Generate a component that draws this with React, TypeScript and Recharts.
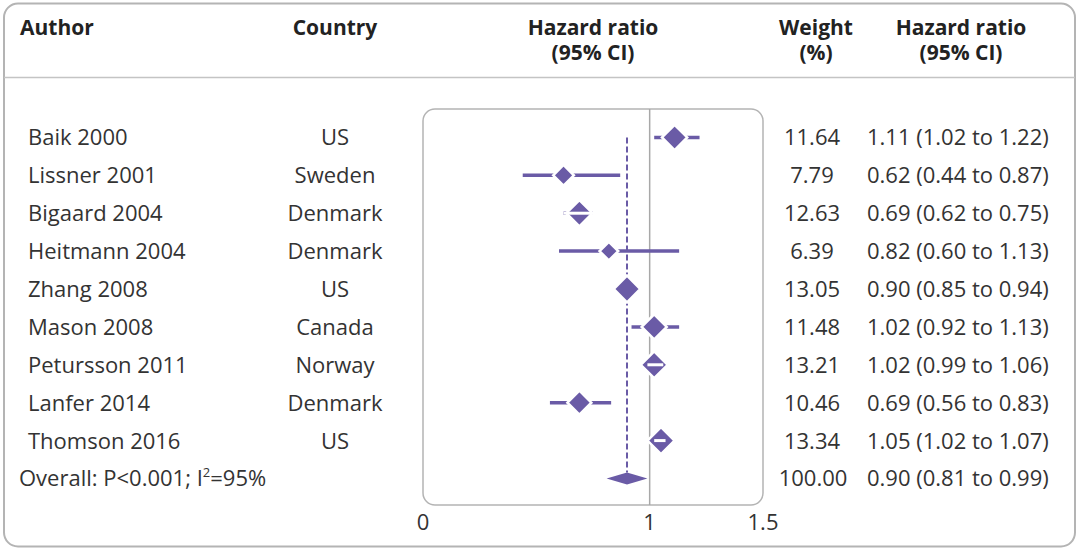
import {
  ErrorBar,
  ReferenceArea,
  ReferenceLine,
  Scatter,
  ScatterChart,
  XAxis,
  YAxis,
} from "recharts";

// study rows, top to bottom
const authors = [
  "Baik 2000",
  "Lissner 2001",
  "Bigaard 2004",
  "Heitmann 2004",
  "Zhang 2008",
  "Mason 2008",
  "Petursson 2011",
  "Lanfer 2014",
  "Thomson 2016",
];
const countries = ["US", "Sweden", "Denmark", "Denmark", "US", "Canada", "Norway", "Denmark", "US"];
const hazardRatios = [1.11, 0.62, 0.69, 0.82, 0.9, 1.02, 1.02, 0.69, 1.05];
const lowerCI = [1.02, 0.44, 0.62, 0.6, 0.85, 0.92, 0.99, 0.56, 1.02];
const upperCI = [1.22, 0.87, 0.75, 1.13, 0.94, 1.13, 1.06, 0.83, 1.07];
const weights = [11.64, 7.79, 12.63, 6.39, 13.05, 11.48, 13.21, 10.46, 13.34];
// rows whose CI sits inside the marker get a white whisker drawn over it
const whiteWhisker = ["Bigaard 2004", "Petursson 2011", "Thomson 2016"];

const overallLabel = "Overall";
const overallHR = 0.9;
const overallLower = 0.81;
const overallUpper = 0.99;
const overallWeight = 100.0;

const xTicks = [0, 1, 1.5];
const xDomain = [0, 1.5];
const yDomain = [-0.75, 9.7];

const PURPLE = "#6a5ba6";
const TEXT = "#333333";
const FONT = "'Open Sans', sans-serif";
const FS = 22;

const rows = authors.map((author, i) => ({
  row: i,
  author,
  country: countries[i],
  hr: hazardRatios[i],
  lo: lowerCI[i],
  hi: upperCI[i],
  weight: weights[i],
  err: [hazardRatios[i] - lowerCI[i], upperCI[i] - hazardRatios[i]],
}));
const overallRow = authors.length;
const whiteRows = rows.filter((r) => whiteWhisker.includes(r.author));

const fmt = (v: number) => v.toFixed(2);

const Diamond = (props: any) => {
  const { cx, cy, payload } = props;
  const s = 3.7 * Math.sqrt(payload.weight);
  return (
    <polygon
      points={`${cx - s},${cy} ${cx},${cy - s} ${cx + s},${cy} ${cx},${cy + s}`}
      fill={PURPLE}
      stroke="#ffffff"
      strokeWidth={2.5}
    />
  );
};

const Nothing = () => <g />;

const OverallDiamond = (props: any) => {
  const { x, y, width, height } = props;
  const mx = x + width * ((overallHR - overallLower) / (overallUpper - overallLower));
  return (
    <polygon
      points={`${x},${y + height / 2} ${mx},${y} ${x + width},${y + height / 2} ${mx},${y + height}`}
      fill={PURPLE}
    />
  );
};

const RowTick = (props: any) => {
  const { y, payload } = props;
  const i = payload.value;
  const by = y + 8;
  if (i === overallRow) {
    return (
      <g fontFamily={FONT} fontSize={FS} fill={TEXT}>
        <text x={19} y={by}>
          {overallLabel}: P&lt;0.001; I
          <tspan fontSize={13} dy={-9}>2</tspan>
          <tspan dy={9}>=95%</tspan>
        </text>
        <text x={813} y={by} textAnchor="middle">{fmt(overallWeight)}</text>
        <text x={867} y={by}>
          {`${fmt(overallHR)} (${fmt(overallLower)} to ${fmt(overallUpper)})`}
        </text>
      </g>
    );
  }
  const r = rows[i];
  return (
    <g fontFamily={FONT} fontSize={FS} fill={TEXT}>
      <text x={28} y={by}>{r.author}</text>
      <text x={335} y={by} textAnchor="middle">{r.country}</text>
      <text x={812} y={by} textAnchor="middle">{fmt(r.weight)}</text>
      <text x={867} y={by}>{`${fmt(r.hr)} (${fmt(r.lo)} to ${fmt(r.hi)})`}</text>
    </g>
  );
};

const XTick = (props: any) => {
  const { x, payload } = props;
  return (
    <text x={x} y={530} textAnchor="middle" fontFamily={FONT} fontSize={FS} fill={TEXT}>
      {payload.value}
    </text>
  );
};

const headStyle = { fontFamily: FONT, fontSize: 21, fontWeight: 700, fill: "#222" };

export default function App() {
  return (
    <div style={{ position: "absolute", left: 0, top: 0, width: 1080, height: 554, background: "#fff" }}>
      <svg width={1080} height={554} style={{ position: "absolute", left: 0, top: 0 }}>
        <rect x={4} y={3.5} width={1071} height={543} rx={14} fill="#fff" stroke="#b4b4b4" strokeWidth={2} />
        <line x1={4} x2={1075} y1={77.5} y2={77.5} stroke="#c4c4c4" strokeWidth={1.5} />
        <text x={20} y={35} {...headStyle}>Author</text>
        <text x={335} y={35} textAnchor="middle" {...headStyle}>Country</text>
        <text x={593} y={35} textAnchor="middle" {...headStyle}>Hazard ratio</text>
        <text x={593} y={60} textAnchor="middle" {...headStyle}>(95% CI)</text>
        <text x={816} y={35} textAnchor="middle" {...headStyle}>Weight</text>
        <text x={816} y={60} textAnchor="middle" {...headStyle}>(%)</text>
        <text x={961} y={35} textAnchor="middle" {...headStyle}>Hazard ratio</text>
        <text x={961} y={60} textAnchor="middle" {...headStyle}>(95% CI)</text>
      </svg>
      <div style={{ position: "absolute", left: 0, top: 0 }}>
        <ScatterChart width={1080} height={554} margin={{ top: 109, right: 317, bottom: 0, left: 0 }}>
          <XAxis
            type="number"
            dataKey="hr"
            domain={xDomain}
            ticks={xTicks}
            allowDataOverflow
            axisLine={false}
            tickLine={false}
            height={49}
            tick={<XTick />}
          />
          <YAxis
            type="number"
            dataKey="row"
            domain={yDomain}
            reversed
            allowDataOverflow
            ticks={[...rows.map((r) => r.row), overallRow]}
            interval={0}
            width={423}
            axisLine={false}
            tickLine={false}
            tick={<RowTick />}
          />
          <ReferenceArea
            x1={0}
            x2={1.5}
            y1={-0.75}
            y2={9.7}
            fill="none"
            fillOpacity={0}
            stroke="#b4b4b4"
            strokeWidth={1.5}
            radius={12}
          />
          <ReferenceLine x={1} stroke="#a8a8a8" strokeWidth={1.5} />
          <ReferenceLine
            segment={[
              { x: overallHR, y: 0 },
              { x: overallHR, y: overallRow - 0.16 },
            ]}
            stroke={PURPLE}
            strokeWidth={2}
            strokeDasharray="6 3"
          />
          <Scatter data={rows} shape={<Diamond />} isAnimationActive={false}>
            <ErrorBar
              dataKey="err"
              direction="x"
              width={0}
              stroke={PURPLE}
              strokeWidth={3.5}
              isAnimationActive={false}
            />
          </Scatter>
          <ReferenceArea
            x1={overallLower}
            x2={overallUpper}
            y1={overallRow - 0.16}
            y2={overallRow + 0.16}
            shape={<OverallDiamond />}
          />
        </ScatterChart>
      </div>
      {/* same axes laid over the top, only for the white whiskers inside the markers */}
      <div style={{ position: "absolute", left: 0, top: 0, pointerEvents: "none" }}>
        <ScatterChart width={1080} height={554} margin={{ top: 109, right: 317, bottom: 49, left: 423 }}>
          <XAxis type="number" dataKey="hr" domain={xDomain} allowDataOverflow hide />
          <YAxis type="number" dataKey="row" domain={yDomain} reversed allowDataOverflow hide />
          <Scatter data={whiteRows} shape={<Nothing />} isAnimationActive={false}>
            <ErrorBar
              dataKey="err"
              direction="x"
              width={0}
              stroke="#ffffff"
              strokeWidth={3}
              isAnimationActive={false}
            />
          </Scatter>
        </ScatterChart>
      </div>
    </div>
  );
}
